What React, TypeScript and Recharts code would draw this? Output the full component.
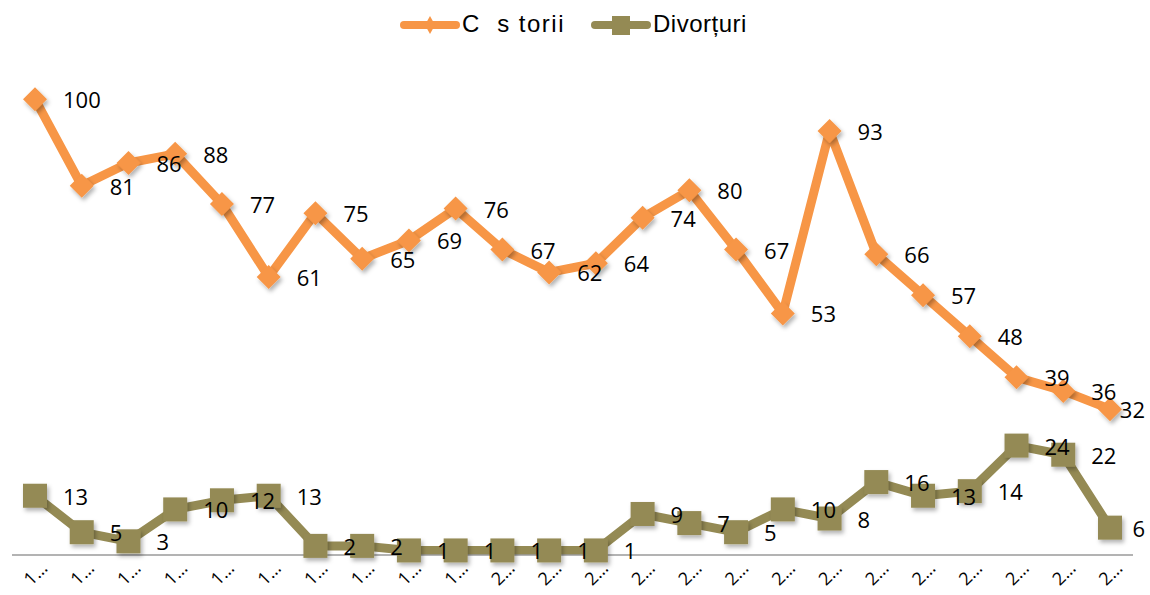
import { LineChart, Line, XAxis, YAxis } from 'recharts';

const years = [
  '1990', '1991', '1992', '1993', '1994', '1995', '1996', '1997', '1998', '1999',
  '2000', '2001', '2002', '2003', '2004', '2005', '2006', '2007', '2008', '2009',
  '2010', '2011', '2012', '2013',
];
const casatorii = [100, 81, 86, 88, 77, 61, 75, 65, 69, 76, 67, 62, 64, 74, 80, 67, 53, 93, 66, 57, 48, 39, 36, 32];
const divorturi = [13, 5, 3, 10, 12, 13, 2, 2, 1, 1, 1, 1, 1, 9, 7, 5, 10, 8, 16, 13, 14, 24, 22, 6];

const ORANGE = '#F79646';
const OLIVE = '#948A54';
const W = 1150;
const H = 595;

const data = years.map((y, i) => ({ year: y, casatorii: casatorii[i], divorturi: divorturi[i] }));

function Diamond(props: any) {
  const { cx, cy, index } = props;
  if (cx == null || cy == null) return null;
  const r = 12;
  return (
    <path
      key={`dm-${index}`}
      d={`M${cx},${cy - r} L${cx + r},${cy} L${cx},${cy + r} L${cx - r},${cy} Z`}
      fill={ORANGE}
      filter="url(#soft)"
    />
  );
}

function Square(props: any) {
  const { cx, cy, index } = props;
  if (cx == null || cy == null) return null;
  const s = 12;
  return (
    <rect key={`sq-${index}`} x={cx - s} y={cy - s} width={s * 2} height={s * 2} fill={OLIVE} filter="url(#soft)" />
  );
}

function ValueLabel(props: any) {
  const { x, y, value, index } = props;
  if (x == null || y == null) return null;
  const txt = String(value);
  const w = txt.length * 12.6;
  const lx = Math.min(x + 28, 1145 - w);
  return (
    <text
      key={`lb-${index}`}
      x={lx}
      y={y}
      dominantBaseline="central"
      textAnchor="start"
      fontFamily="'Open Sans', sans-serif"
      fontSize={22}
      fill="#000"
    >
      {txt}
    </text>
  );
}

// Excel truncated the year labels to their first digit
function YearTick(props: any) {
  const { x, y, payload } = props;
  const label = String(payload.value).charAt(0) + '…';
  return (
    <g transform={`translate(${x},${y + 10})`}>
      <text
        transform="rotate(-45)"
        textAnchor="middle"
        dominantBaseline="central"
        fontFamily="'Open Sans', sans-serif"
        fontSize={18}
        fill="#000"
      >
        {label}
      </text>
    </g>
  );
}

function TopLegend() {
  return (
    <div style={{ position: 'absolute', left: 0, top: 0, width: W, height: 50, fontFamily: "'Liberation Sans', Arial, sans-serif", fontSize: 24 }}>
      <svg width={W} height={50} style={{ position: 'absolute', left: 0, top: 0 }}>
        <line x1={404} y1={25} x2={456} y2={25} stroke={ORANGE} strokeWidth={8} strokeLinecap="round" />
        <path d="M430,16 L435,25 L430,34 L425,25 Z" fill={ORANGE} />
        <line x1={595} y1={25} x2={647} y2={25} stroke={OLIVE} strokeWidth={8} strokeLinecap="round" />
        <rect x={612} y={16} width={18} height={19} fill={OLIVE} />
      </svg>
      <span style={{ position: 'absolute', left: 462, top: 10, whiteSpace: 'pre', letterSpacing: 1.5, lineHeight: '28px' }}>
        {'C  s torii'}
      </span>
      <span style={{ position: 'absolute', left: 653, top: 10, whiteSpace: 'pre', letterSpacing: 0.5, lineHeight: '28px' }}>
        Divorțuri
      </span>
    </div>
  );
}

export default function App() {
  return (
    <div style={{ position: 'relative', width: W, height: H, background: '#fff' }}>
      <style>{'body{margin:0}'}</style>
      <LineChart width={W} height={H} data={data} margin={{ top: 8, right: 17, left: 12, bottom: 0 }}>
        <defs>
          <filter id="soft" x="-50%" y="-50%" width="200%" height="200%">
            <feDropShadow dx={2} dy={3} stdDeviation={2} floodColor="#000" floodOpacity={0.3} />
          </filter>
        </defs>
        <XAxis
          dataKey="year"
          interval={0}
          tickLine={false}
          axisLine={{ stroke: '#9a9a9a', strokeWidth: 1.5 }}
          padding={{ left: 23, right: 23 }}
          height={40}
          tick={<YearTick />}
        />
        <YAxis hide width={0} domain={[0, 120]} />
        <Line
          type="linear"
          dataKey="casatorii"
          name="Căsătorii"
          stroke={ORANGE}
          strokeWidth={9}
          strokeLinejoin="round"
          dot={<Diamond />}
          label={<ValueLabel />}
          isAnimationActive={false}
        />
        <Line
          type="linear"
          dataKey="divorturi"
          name="Divorțuri"
          stroke={OLIVE}
          strokeWidth={9}
          strokeLinejoin="round"
          dot={<Square />}
          label={<ValueLabel />}
          isAnimationActive={false}
        />
      </LineChart>
      <TopLegend />
    </div>
  );
}
